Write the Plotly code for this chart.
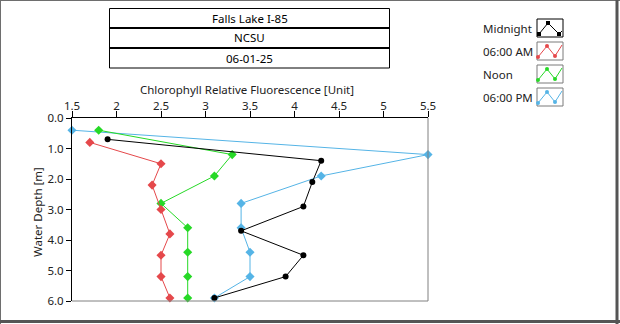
import plotly.graph_objects as go

# ---- data ----
series_names = ["Midnight", "06:00 AM", "Noon", "06:00 PM"]
midnight_depth = [0.7, 1.4, 2.1, 2.9, 3.7, 4.5, 5.2, 5.9]
midnight_val = [1.9, 4.3, 4.2, 4.1, 3.4, 4.1, 3.9, 3.1]
am_depth = [0.8, 1.5, 2.2, 3.0, 3.8, 4.5, 5.2, 5.9]
am_val = [1.7, 2.5, 2.4, 2.5, 2.6, 2.5, 2.5, 2.6]
noon_depth = [0.4, 1.2, 1.9, 2.8, 3.6, 4.4, 5.2, 5.9]
noon_val = [1.8, 3.3, 3.1, 2.5, 2.8, 2.8, 2.8, 2.8]
pm_depth = [0.4, 1.2, 1.9, 2.8, 3.6, 4.4, 5.2, 5.9]
pm_val = [1.5, 5.5, 4.3, 3.4, 3.4, 3.5, 3.5, 3.1]

x_ticks = [1.5, 2, 2.5, 3, 3.5, 4, 4.5, 5, 5.5]
x_tick_labels = ["1.5", "2", "2.5", "3", "3.5", "4", "4.5", "5", "5.5"]
y_ticks = [0, 1, 2, 3, 4, 5, 6]
y_tick_labels = ["0.0", "1.0", "2.0", "3.0", "4.0", "5.0", "6.0"]
header_lines = ["Falls Lake I-85", "NCSU", "06-01-25"]

colors = {"Midnight": "#000000", "06:00 AM": "#E5484B", "Noon": "#26D926", "06:00 PM": "#55B4E6"}
symbols = {"Midnight": "circle", "06:00 AM": "diamond", "Noon": "diamond", "06:00 PM": "diamond"}
data = {
    "Midnight": (midnight_val, midnight_depth),
    "06:00 AM": (am_val, am_depth),
    "Noon": (noon_val, noon_depth),
    "06:00 PM": (pm_val, pm_depth),
}

FONT = "Noto Sans"
FS = 11.5
W, H = 620, 324
ML, MR, MT, MB = 72, 192, 118, 23
PW, PH = W - ML - MR, H - MT - MB


def px(x):
    return (x - ML) / PW


def py(y):
    return (H - MB - y) / PH


fig = go.Figure()
for name in ["06:00 PM", "Noon", "06:00 AM", "Midnight"]:
    xv, yv = data[name]
    fig.add_trace(go.Scatter(
        x=xv, y=yv, mode="lines+markers", name=name,
        line=dict(color=colors[name], width=1),
        marker=dict(color=colors[name], size=7 if name != "Midnight" else 6,
                    symbol=symbols[name]),
        cliponaxis=False, showlegend=False,
    ))

shapes = []
annotations = []

# outer panel frame
shapes.append(dict(type="line", xref="paper", yref="paper", x0=px(0.5), x1=px(0.5), y0=py(0), y1=py(H),
                   line=dict(color="#6e6e6e", width=1)))
shapes.append(dict(type="line", xref="paper", yref="paper", x0=px(0), x1=px(W), y0=py(0.5), y1=py(0.5),
                   line=dict(color="#6e6e6e", width=1)))
shapes.append(dict(type="line", xref="paper", yref="paper", x0=px(617), x1=px(617), y0=py(0), y1=py(H),
                   line=dict(color="#555555", width=3)))
shapes.append(dict(type="line", xref="paper", yref="paper", x0=px(0), x1=px(W), y0=py(321.5), y1=py(321.5),
                   line=dict(color="#555555", width=3)))

# plot frame right & bottom (gray)
shapes.append(dict(type="line", xref="paper", yref="paper", x0=1, x1=1, y0=0, y1=1,
                   line=dict(color="#808080", width=1)))
shapes.append(dict(type="line", xref="paper", yref="paper", x0=0, x1=1, y0=0, y1=0,
                   line=dict(color="#808080", width=1)))

# header boxes
bx0, bx1 = 109.5, 389.5
rows = [(8.5, 28), (28, 48), (48, 68)]
shapes.append(dict(type="rect", xref="paper", yref="paper", x0=px(bx0), x1=px(bx1), y0=py(8.5), y1=py(68),
                   line=dict(color="black", width=1)))
for yy in (28, 48):
    shapes.append(dict(type="line", xref="paper", yref="paper", x0=px(bx0), x1=px(bx1), y0=py(yy), y1=py(yy),
                       line=dict(color="black", width=2)))
for txt, (t0, t1) in zip(header_lines, rows):
    annotations.append(dict(text=txt, xref="paper", yref="paper", x=px((bx0 + bx1) / 2), y=py((t0 + t1) / 2),
                            showarrow=False, xanchor="center", yanchor="middle",
                            font=dict(family=FONT, size=FS, color="black")))

# axis titles
annotations.append(dict(text="Chlorophyll Relative Fluorescence [Unit]", xref="paper", yref="paper",
                        x=px(247), y=py(89), showarrow=False, xanchor="center", yanchor="middle",
                        font=dict(family=FONT, size=FS, color="#222")))
annotations.append(dict(text="Water Depth [m]", xref="paper", yref="paper", textangle=-90,
                        x=px(37), y=py(212), showarrow=False, xanchor="center", yanchor="middle",
                        font=dict(family=FONT, size=FS, color="#222")))

# custom legend
icon_x0, icon_w, icon_h = 537, 26, 18
tops = [19, 42, 65, 88]
for name, top in zip(series_names, tops):
    c = colors[name]
    annotations.append(dict(text=name, xref="paper", yref="paper", x=px(481), y=py(top + 9.5),
                            showarrow=False, xanchor="left", yanchor="middle",
                            font=dict(family=FONT, size=FS, color="#222")))
    shapes.append(dict(type="rect", xref="paper", yref="paper",
                       x0=px(icon_x0), x1=px(icon_x0 + icon_w), y0=py(top), y1=py(top + icon_h),
                       fillcolor="white",
                       line=dict(color="black" if name == "Midnight" else "#7a7a7a", width=1)))
    if name == "Midnight":
        pts = [(icon_x0 + 2, top + 15), (icon_x0 + 11, top + 4), (icon_x0 + 22, top + 15), (icon_x0 + 25, top + 12)]
        mk = pts[:3]
    else:
        pts = [(icon_x0 + 1, top + 15), (icon_x0 + 10, top + 4), (icon_x0 + 18, top + 14), (icon_x0 + 25, top + 3)]
        mk = [pts[0], pts[1], pts[2]]
    path = "M " + " L ".join(f"{px(a)},{py(b)}" for a, b in pts)
    shapes.append(dict(type="path", xref="paper", yref="paper", path=path, line=dict(color=c, width=1)))
    for a, b in mk:
        shapes.append(dict(type="rect" if name == "Midnight" else "circle", xref="paper", yref="paper",
                           x0=px(a - 2), x1=px(a + 2), y0=py(b - 2), y1=py(b + 2),
                           fillcolor=c, line=dict(color=c, width=0)))

fig.update_layout(
    width=W, height=H,
    margin=dict(l=ML, r=MR, t=MT, b=MB),
    paper_bgcolor="white", plot_bgcolor="white",
    font=dict(family=FONT, size=FS, color="#222"),
    shapes=shapes, annotations=annotations,
    xaxis=dict(range=[1.5, 5.5], side="top", tickvals=x_ticks, ticktext=x_tick_labels,
               showgrid=False, zeroline=False, showline=True, linecolor="black", linewidth=1,
               ticks="outside", ticklen=6, tickcolor="black", ticklabelstandoff=-4,
               tickfont=dict(family=FONT, size=FS, color="#222")),
    yaxis=dict(range=[6, 0], tickvals=y_ticks, ticktext=y_tick_labels,
               showgrid=False, zeroline=False, showline=True, linecolor="black", linewidth=1,
               ticks="outside", ticklen=5, tickcolor="black",
               tickfont=dict(family=FONT, size=FS, color="#222")),
)

fig.write_html("out.html")
